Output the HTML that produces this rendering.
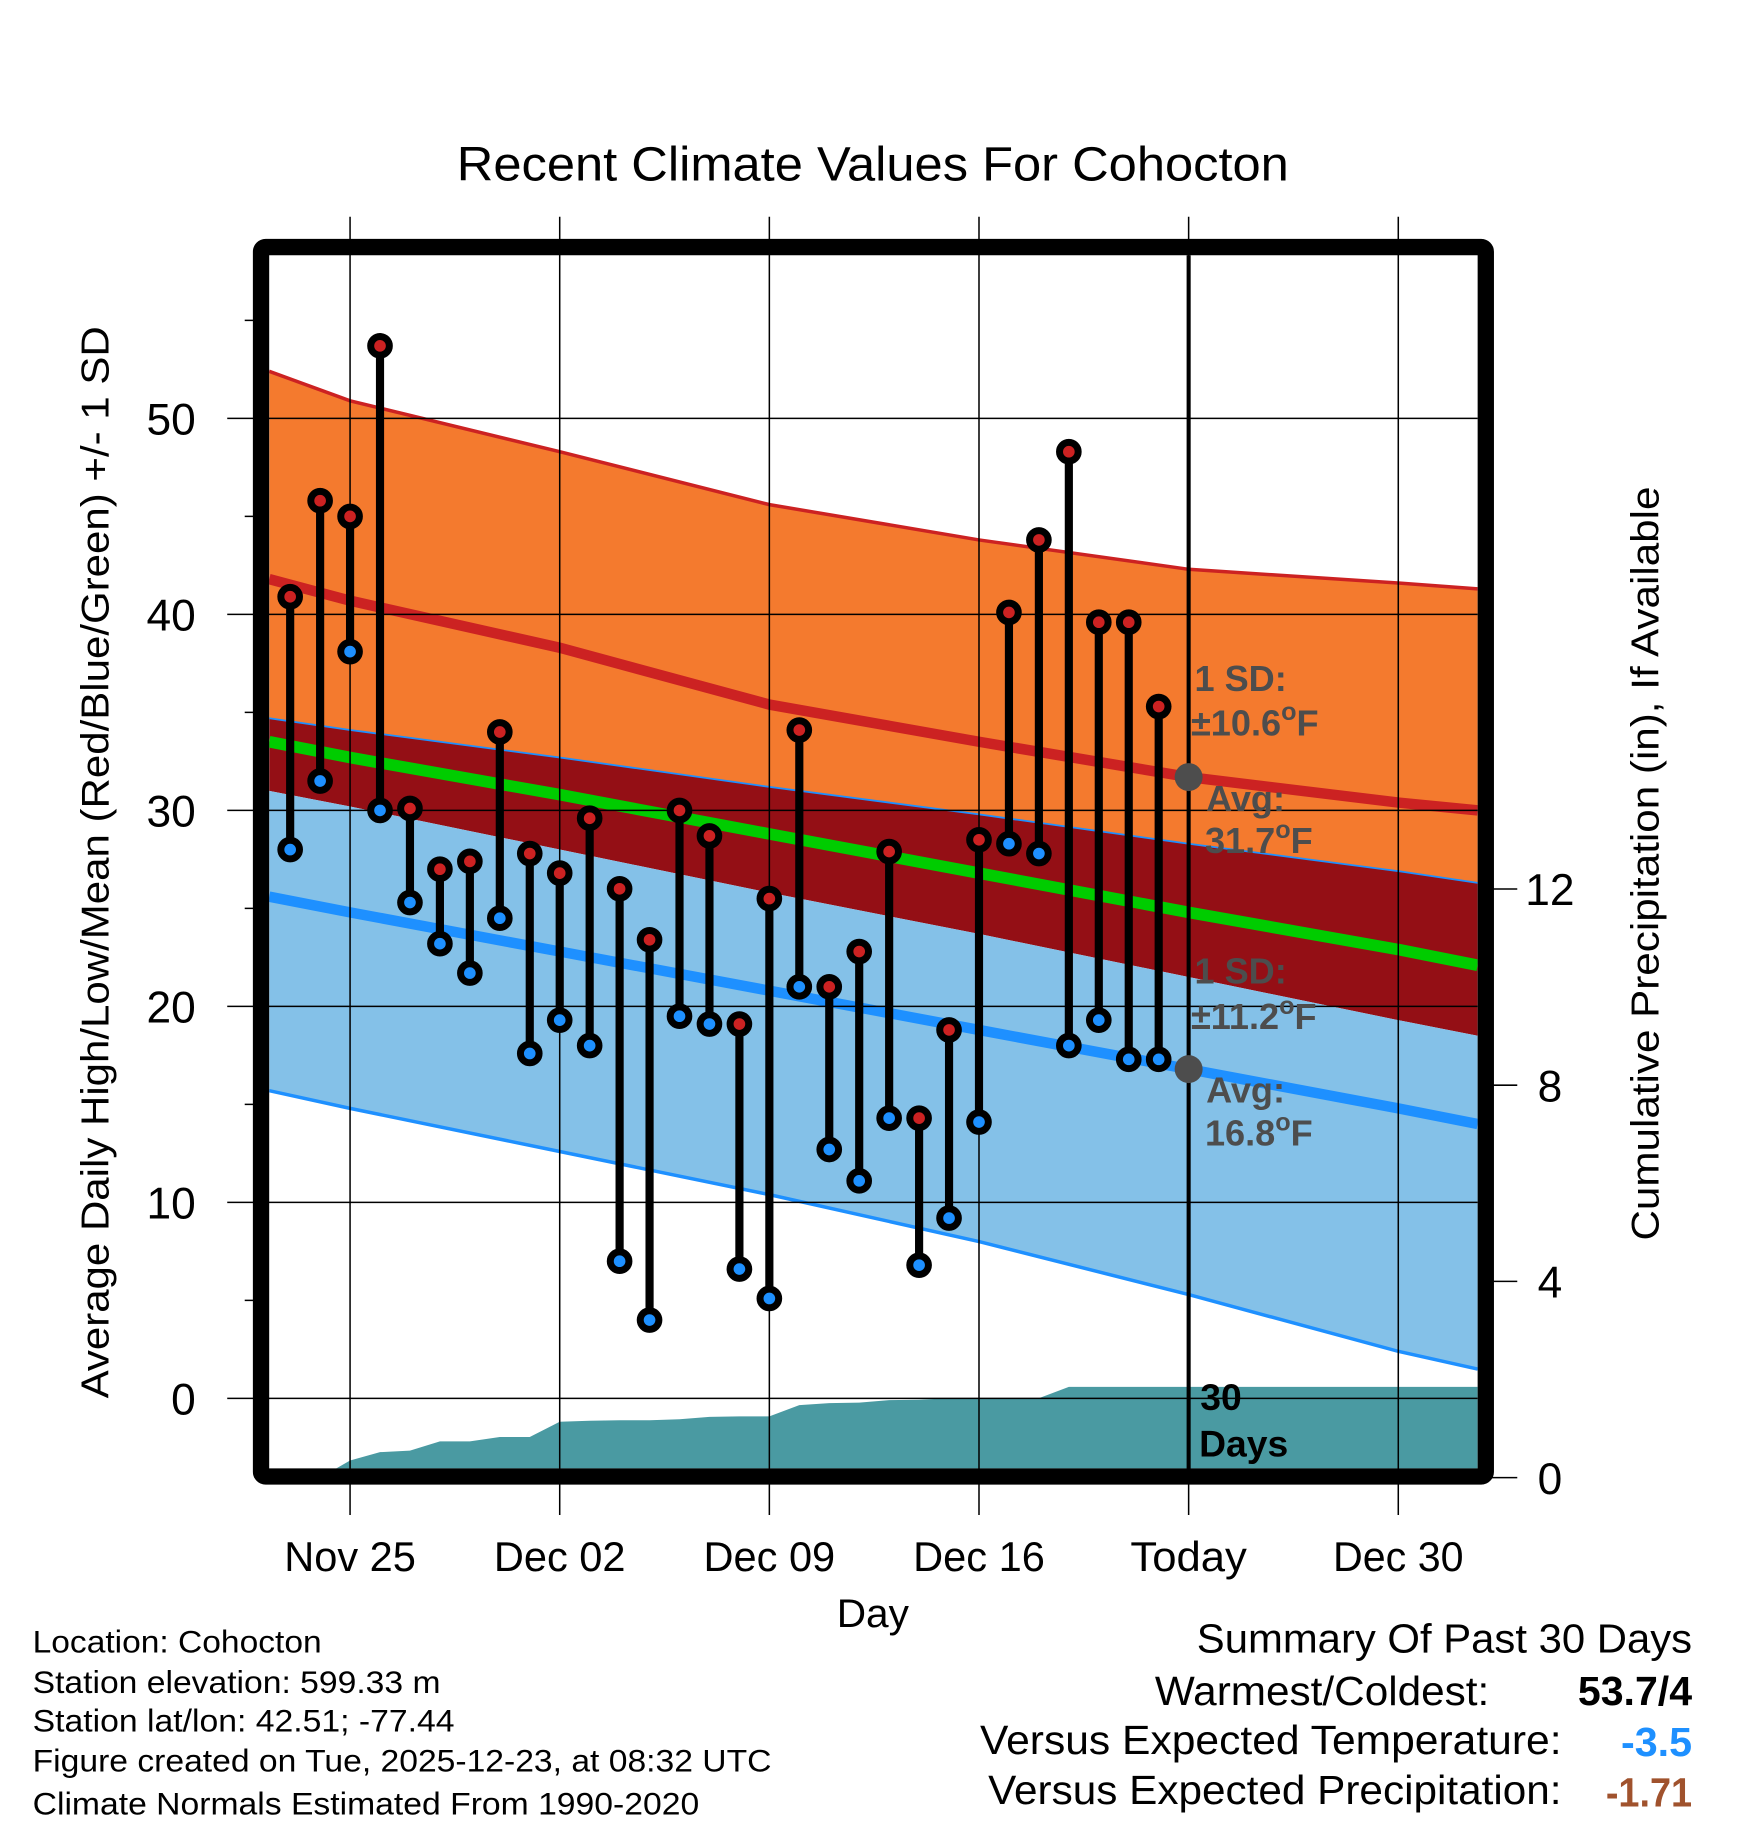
<!DOCTYPE html>
<html><head><meta charset="utf-8"><style>
html,body{margin:0;padding:0;background:#fff;}
svg{display:block;font-family:"Liberation Sans",Arial,sans-serif;}
</style></head><body>
<svg id="chart" width="1748" height="1828" viewBox="0 0 1500 1568.6" xmlns="http://www.w3.org/2000/svg">
<defs><clipPath id="plotclip"><rect x="231" y="219" width="1037" height="1041"/></clipPath></defs>
<text x="392" y="155" font-size="41" textLength="714" lengthAdjust="spacingAndGlyphs">Recent Climate Values For Cohocton</text>
<g id="bands" clip-path="url(#plotclip)"></g>
<g id="grid"></g>
<g id="marks"></g>
<g id="axes"></g>
<text transform="translate(93,740) rotate(-90)" font-size="33" text-anchor="middle" textLength="920" lengthAdjust="spacingAndGlyphs">Average Daily High/Low/Mean (Red/Blue/Green) +/- 1 SD</text>
<text transform="translate(1423,741) rotate(-90)" font-size="33" text-anchor="middle" textLength="647" lengthAdjust="spacingAndGlyphs">Cumulative Precipitation (in), If Available</text>
<text x="718" y="1396" font-size="34" textLength="62" lengthAdjust="spacingAndGlyphs">Day</text>
<g font-size="27">
<text x="28" y="1418" textLength="248" lengthAdjust="spacingAndGlyphs">Location: Cohocton</text>
<text x="28" y="1453" textLength="350" lengthAdjust="spacingAndGlyphs">Station elevation: 599.33 m</text>
<text x="28" y="1486" textLength="362" lengthAdjust="spacingAndGlyphs">Station lat/lon: 42.51; -77.44</text>
<text x="28" y="1520" textLength="634" lengthAdjust="spacingAndGlyphs">Figure created on Tue, 2025-12-23, at 08:32 UTC</text>
<text x="28" y="1557" textLength="572" lengthAdjust="spacingAndGlyphs">Climate Normals Estimated From 1990-2020</text>
</g>
<g font-size="35">
<text x="1027" y="1418" textLength="425" lengthAdjust="spacingAndGlyphs">Summary Of Past 30 Days</text>
<text x="991" y="1463" textLength="287" lengthAdjust="spacingAndGlyphs">Warmest/Coldest:</text>
<text x="1354" y="1463" font-weight="bold" textLength="98" lengthAdjust="spacingAndGlyphs">53.7/4</text>
<text x="841" y="1505" textLength="499" lengthAdjust="spacingAndGlyphs">Versus Expected Temperature:</text>
<text x="1391" y="1507" font-weight="bold" fill="#1e90ff" textLength="61" lengthAdjust="spacingAndGlyphs">-3.5</text>
<text x="848" y="1548" textLength="492" lengthAdjust="spacingAndGlyphs">Versus Expected Precipitation:</text>
<text x="1378" y="1550" font-weight="bold" fill="#a0522d" textLength="74" lengthAdjust="spacingAndGlyphs">-1.71</text>
</g>
<script>
// ---- data ----
const days = ["Nov 23","Nov 24","Nov 25","Nov 26","Nov 27","Nov 28","Nov 29","Nov 30","Dec 01","Dec 02","Dec 03","Dec 04","Dec 05","Dec 06","Dec 07","Dec 08","Dec 09","Dec 10","Dec 11","Dec 12","Dec 13","Dec 14","Dec 15","Dec 16","Dec 17","Dec 18","Dec 19","Dec 20","Dec 21","Dec 22"];
const highs = [40.9,45.8,45.0,53.7,30.1,27.0,27.4,34.0,27.8,26.8,29.6,26.0,23.4,30.0,28.7,19.1,25.5,34.1,21.0,22.8,27.9,14.3,18.8,28.5,40.1,43.8,48.3,39.6,39.6,35.3];
const lows = [28.0,31.5,38.1,30.0,25.3,23.2,21.7,24.5,17.6,19.3,18.0,7.0,4.0,19.5,19.1,6.6,5.1,21.0,12.7,11.1,14.3,6.8,9.2,14.1,28.3,27.8,18.0,19.3,17.3,17.3];
const precipCum = [0,0,0.35,0.52,0.55,0.74,0.74,0.83,0.83,1.14,1.16,1.17,1.17,1.19,1.24,1.25,1.25,1.48,1.52,1.53,1.58,1.59,1.62,1.62,1.62,1.62,1.85,1.85,1.85,1.85];
const normDays = [-0.7,2,9,16,23,30,37,39.65];
const highPlusSD = [52.4,50.9,48.3,45.6,43.8,42.3,41.6,41.3];
const normHigh = [41.8,40.7,38.3,35.4,33.5,31.7,30.4,30.0];
const highMinusSD = [34.7,34.1,32.7,31.2,29.8,28.3,26.9,26.3];
const normMean = [33.5,32.7,30.8,28.8,26.8,24.8,22.9,22.1];
const lowPlusSD = [31.0,30.2,28.0,25.8,23.7,21.5,19.3,18.5];
const normLow = [25.6,24.8,22.8,20.8,18.8,16.8,14.8,14.0];
const lowMinusSD = [15.7,14.8,12.6,10.4,8.0,5.3,2.4,1.5];
const xTickDays = [2,9,16,23,30,37];
const xTickLabels = ["Nov 25","Dec 02","Dec 09","Dec 16","Today","Dec 30"];
const yTicks = [0,10,20,30,40,50];
const y2Ticks = [0,4,8,12];
const todayDay = 30;
const todayHighAvg = 31.7, todayLowAvg = 16.8;

// ---- scales ----
const xD = t => 249 + 25.7*t;
const yT = v => 1200 - 16.82*v;
const yP = p => 1268 - 42.1*p;
const NS = "http://www.w3.org/2000/svg";
function mk(tag, attrs, parent){const e=document.createElementNS(NS,tag);for(const k in attrs)e.setAttribute(k,attrs[k]);parent.appendChild(e);return e;}
const bands=document.getElementById('bands'), grid=document.getElementById('grid'), marks=document.getElementById('marks'), axes=document.getElementById('axes');
const pts = arr => normDays.map((t,i)=>xD(t).toFixed(1)+','+yT(arr[i]).toFixed(1));
function band(top,bot,fill,name){const p=pts(top).concat(pts(bot).reverse());const e=mk('polygon',{points:p.join(' '),fill:fill},bands);

}
function line(arr,color,w,name){const e=mk('polyline',{points:pts(arr).join(' '),fill:'none',stroke:color,'stroke-width':w},bands);

}
band(highPlusSD,highMinusSD,'#f47a2e','high-sd-band');
band(highMinusSD,lowPlusSD,'#940f15','overlap-band');
band(lowPlusSD,lowMinusSD,'#84c1e8','low-sd-band');
line(highPlusSD,'#cc2222',3,'high-plus-sd-line');
line(highMinusSD,'#1e90ff',1.5,'high-minus-sd-line');
line(lowMinusSD,'#1e90ff',3,'low-minus-sd-line');
line(normHigh,'#cc2222',9,'normal-high-line');
line(normMean,'#00cc00',10,'normal-mean-line');
line(normLow,'#1e90ff',9,'normal-low-line');
// precip area
{let p=[xD(0)+','+yP(0)];precipCum.forEach((v,i)=>p.push(xD(i).toFixed(1)+','+yP(v).toFixed(1)));
p.push('1268,'+yP(precipCum[precipCum.length-1]).toFixed(1));p.push('1268,'+yP(0));
const e=mk('polygon',{points:p.join(' '),fill:'#4a9aa2'},bands);

}
// grid
yTicks.forEach(v=>{const e=mk('line',{x1:195,x2:1268,y1:yT(v),y2:yT(v),stroke:'#000','stroke-width':1.3},grid);


const t=mk('text',{x:168,y:yT(v)+14,'font-size':38,'text-anchor':'end'},axes);t.textContent=v;

});
for(let v=5;v<=55;v+=10){const e=mk('line',{x1:210,x2:224,y1:yT(v),y2:yT(v),stroke:'#000','stroke-width':1.3},grid);

}
const xLabW=[113,113,113,113,100,112];
xTickDays.forEach((d,i)=>{const e=mk('line',{x1:xD(d),x2:xD(d),y1:186,y2:1300,stroke:'#000','stroke-width':1.3},grid);


const t=mk('text',{x:xD(d)-xLabW[i]/2,y:1348,'font-size':36,textLength:xLabW[i],lengthAdjust:'spacingAndGlyphs'},axes);t.textContent=xTickLabels[i];

});
y2Ticks.forEach(v=>{const e=mk('line',{x1:1275,x2:1302,y1:yP(v),y2:yP(v),stroke:'#000','stroke-width':1.3},grid);


const t=mk('text',{x:1330,y:yP(v)+14,'font-size':38,'text-anchor':'middle'},axes);t.textContent=v;

});
// today line
{const e=mk('line',{x1:xD(todayDay),x2:xD(todayDay),y1:219,y2:1262,stroke:'#000','stroke-width':3.5},marks);

}
// frame
{const e=mk('rect',{x:224,y:212,width:1051,height:1055,rx:4,fill:'none',stroke:'#000','stroke-width':14},marks);

}
// stems and dots
highs.forEach((h,i)=>{const x=xD(i);
const s=mk('line',{x1:x,x2:x,y1:yT(h),y2:yT(lows[i]),stroke:'#000','stroke-width':7},marks);

});
highs.forEach((h,i)=>{const x=xD(i);
const a=mk('circle',{cx:x,cy:yT(h),r:8,fill:'#cc2222',stroke:'#000','stroke-width':6},marks);


const b=mk('circle',{cx:x,cy:yT(lows[i]),r:8,fill:'#1e90ff',stroke:'#000','stroke-width':6},marks);

});
// annotations
function ann(x,y,txt,name,size,fill,deg){const t=mk('text',{x:x,y:y,'font-size':size,'font-weight':'bold',fill:fill},marks);
t.appendChild(document.createTextNode(txt));
if(deg){const s1=mk('tspan',{dy:-13,'font-size':size*0.7},t);s1.textContent='o';const s2=mk('tspan',{dy:13},t);s2.textContent='F';}

}
const g='#4d4d4d';
{const c=mk('circle',{cx:xD(todayDay),cy:yT(todayHighAvg),r:12,fill:g},marks);


const d=mk('circle',{cx:xD(todayDay),cy:yT(todayLowAvg),r:12,fill:g},marks);

}
ann(1025,593,'1 SD:','high-sd-label',31,g,false);
ann(1022,631,'±10.6','high-sd-value',31,g,true);
ann(1035,696,'Avg:','high-avg-label',31,g,false);
ann(1034,732,'31.7','high-avg-value',31,g,true);
ann(1025,844,'1 SD:','low-sd-label',31,g,false);
ann(1022,883,'±11.2','low-sd-value',31,g,true);
ann(1035,946,'Avg:','low-avg-label',31,g,false);
ann(1034,983,'16.8','low-avg-value',31,g,true);
ann(1030,1210,'30','precip-days-number',32,'#000',false);
ann(1029,1250,'Days','precip-days-label',32,'#000',false);
</script>
</svg>
</body></html>
